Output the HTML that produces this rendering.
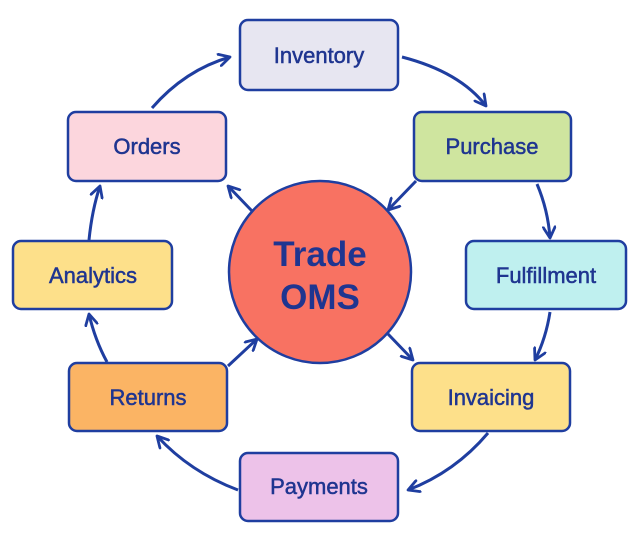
<!DOCTYPE html>
<html><head><style>
html,body{margin:0;padding:0;background:#fff;}
svg{display:block;}
text{font-family:"Liberation Sans",sans-serif;fill:#1f3590;}
</style></head><body>
<svg width="640" height="541" viewBox="0 0 640 541">
<defs>
<marker id="a" viewBox="0 0 14 14" refX="12" refY="7" markerWidth="14" markerHeight="14" markerUnits="userSpaceOnUse" orient="auto">
<path d="M1,1 L12,7 L1,13" fill="none" stroke="#1f3ea0" stroke-width="2.8" stroke-linecap="round" stroke-linejoin="round"/>
</marker>
</defs>
<g fill="none" stroke="#1f3ea0" stroke-width="3" marker-end="url(#a)">
<path d="M152,108 Q185,70 230,57"/>
<path d="M402,57 Q460,72 486,106"/>
<path d="M537,184 Q548,210 550,238"/>
<path d="M550,312 Q546,338 535,360"/>
<path d="M488,433 Q455,472 408,490"/>
<path d="M238,490 Q190,472 157,436"/>
<path d="M107,362 Q95,340 89,314"/>
<path d="M89,240 Q92,210 100,186"/>
<path d="M252,211 L228,186"/>
<path d="M416,181 L388,210"/>
<path d="M388,334 L413,360"/>
<path d="M228,366 L257,339"/>
</g>
<g stroke="#1f3ea0" stroke-width="2.5">
<rect x="240" y="20" width="158" height="70" rx="8" fill="#e7e6f1"/>
<rect x="68" y="112" width="158" height="69" rx="8" fill="#fcd6dd"/>
<rect x="414" y="112" width="157" height="69" rx="8" fill="#cfe59f"/>
<rect x="13" y="241" width="159" height="68" rx="8" fill="#fde08a"/>
<rect x="466" y="241" width="160" height="68" rx="8" fill="#bff0ef"/>
<rect x="69" y="363" width="158" height="68" rx="8" fill="#fbb464"/>
<rect x="412" y="363" width="158" height="68" rx="8" fill="#fde08a"/>
<rect x="240" y="453" width="158" height="68" rx="8" fill="#edc2e9"/>
<circle cx="320" cy="272" r="91" fill="#f87262"/>
</g>
<g font-size="22" text-anchor="middle" stroke="#1f3590" stroke-width="0.5">
<text x="319" y="63">Inventory</text>
<text x="147" y="154">Orders</text>
<text x="492" y="154">Purchase</text>
<text x="93" y="283">Analytics</text>
<text x="546" y="283">Fulfillment</text>
<text x="148" y="405">Returns</text>
<text x="491" y="405">Invaicing</text>
<text x="319" y="494">Payments</text>
</g>
<g font-size="35" font-weight="bold" text-anchor="middle">
<text x="320" y="266">Trade</text>
<text x="320" y="309">OMS</text>
</g>
</svg>
</body></html>
